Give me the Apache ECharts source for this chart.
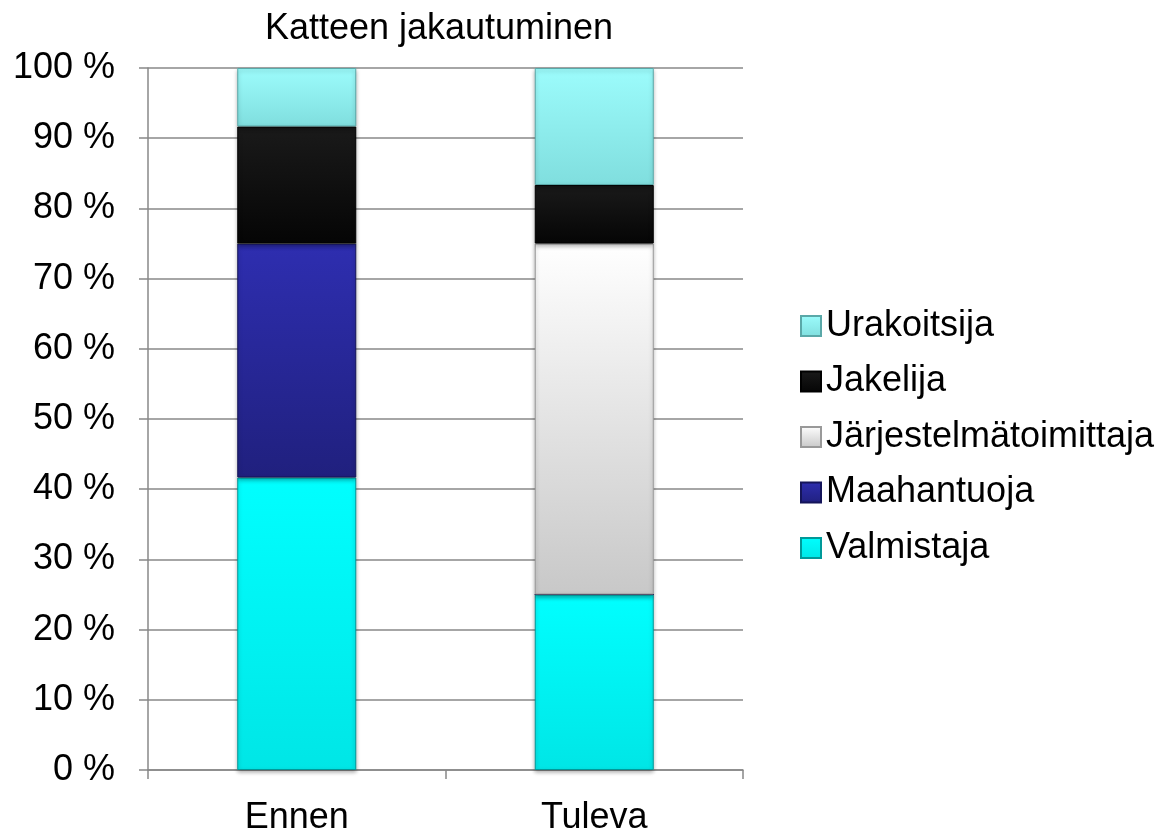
<!DOCTYPE html>
<html>
<head>
<meta charset="utf-8">
<script src="https://cdn.jsdelivr.net/npm/echarts@6/dist/echarts.min.js"></script>
<style>html,body{margin:0;padding:0;background:#fff;}#c{width:1175px;height:840px;}</style>
</head>
<body>
<div id="c"></div>
<script>
var categories = ['Ennen', 'Tuleva'];
var valmistaja = [41.67, 25];
var maahantuoja = [33.33, 0];
var jarjestelmatoimittaja = [0, 50];
var jakelija = [16.67, 8.33];
var urakoitsija = [8.33, 16.67];
var yTicks = [0, 10, 20, 30, 40, 50, 60, 70, 80, 90, 100];

function grad(top, bottom) {
  return new echarts.graphic.LinearGradient(0, 0, 0, 1, [
    {offset: 0, color: top}, {offset: 1, color: bottom}
  ]);
}
function series(name, data, top, bottom, border) {
  return {
    name: name, type: 'bar', stack: 'total', data: data,
    barWidth: '40%',
    itemStyle: {
      color: grad(top, bottom),
      borderColor: border, borderWidth: 1,
      shadowBlur: 4, shadowColor: 'rgba(0,0,0,0.3)', shadowOffsetY: 2
    },
    emphasis: {disabled: true}
  };
}
var FONT = 'Liberation Sans, Arial, sans-serif';
var chart = echarts.init(document.getElementById('c'));
chart.setOption({
  animation: false,
  textStyle: {fontFamily: FONT},
  title: {
    text: 'Katteen jakautuminen', left: 434, top: 6, textAlign: 'center',
    textStyle: {fontSize: 36, fontWeight: 'normal', color: '#000', fontFamily: FONT}
  },
  legend: {
    orient: 'vertical', left: 800, top: 308, padding: 0,
    itemWidth: 20, itemHeight: 20, itemGap: 19.5, icon: 'rect',
    data: ['Urakoitsija', 'Jakelija', 'Järjestelmätoimittaja', 'Maahantuoja', 'Valmistaja'],
    textStyle: {fontSize: 36, lineHeight: 36, color: '#000', fontFamily: FONT}
  },
  grid: {left: 148, right: 432, top: 68, bottom: 70},
  xAxis: {
    type: 'category', data: categories,
    axisLine: {lineStyle: {color: '#888', width: 1.5}},
    axisTick: {show: true, length: 9, lineStyle: {color: '#888', width: 1.5}},
    axisLabel: {fontSize: 36, color: '#000', margin: 30, fontFamily: FONT}
  },
  yAxis: {
    type: 'value', min: 0, max: 100, interval: 10,
    axisLine: {show: true, lineStyle: {color: '#888', width: 1.5}},
    axisTick: {show: true, inside: false, length: 9, lineStyle: {color: '#888', width: 1.5}},
    splitLine: {lineStyle: {color: '#888', width: 1.5}},
    axisLabel: {
      fontSize: 36, color: '#000', margin: 33, fontFamily: FONT,
      formatter: function (v) { return yTicks.indexOf(v) >= 0 ? v + ' %' : ''; }
    }
  },
  series: [
    series('Valmistaja', valmistaja, '#00FFFF', '#00E6E6', '#009999'),
    series('Maahantuoja', maahantuoja, '#2E2EB0', '#20207E', '#15155A'),
    series('Järjestelmätoimittaja', jarjestelmatoimittaja, '#FFFFFF', '#C8C8C8', '#999999'),
    series('Jakelija', jakelija, '#1A1A1A', '#050505', '#000000'),
    series('Urakoitsija', urakoitsija, '#9CFCFC', '#80DEDE', '#5AA8A8')
  ]
});
</script>
</body>
</html>
